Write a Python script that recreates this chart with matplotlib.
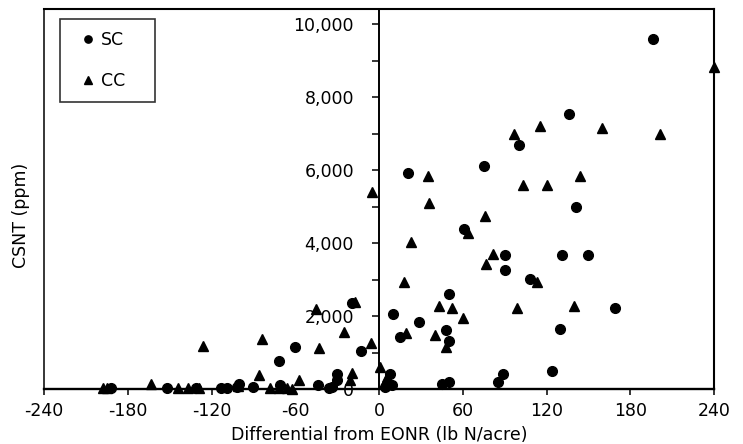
import matplotlib
matplotlib.use('Agg')
import matplotlib.pyplot as plt
from matplotlib.ticker import MultipleLocator, FuncFormatter
from matplotlib.lines import Line2D

plt.rcParams['font.family'] = ['DejaVu Sans']
plt.rcParams['axes.unicode_minus'] = False

# SC (soybean-corn) points: differential from EONR, CSNT ppm
sc_x = [196, 136, 100, 75, 21, 141, 61, 90, 131, 150, 90, 108, 50, 169, 10, 29,
        15, 48, 130, 50, 124, 89, 85, 50, 45, 8, 9, 4, 5,
        -19, -60, -72, -13, -30, -30, -34, -44, -90, -100, -102,
        -192, -152, -131, -113, -109, -71, -36]
sc_y = [9600, 7550, 6680, 6120, 5930, 4980, 4380, 3670, 3670, 3670, 3270, 3020, 2610, 2220, 2060, 1850,
        1420, 1620, 1650, 1320, 500, 410, 200, 200, 150, 400, 120, 50, 70,
        2370, 1160, 770, 1050, 400, 250, 60, 110, 60, 150, 60,
        40, 40, 40, 40, 40, 100, 40]

# CC (corn-corn) points
cc_x = [240, 201, 115, 97, 160, 35, 103, 120, 144, -5, 36, 76, 64, 23, 82, 77,
        113, 18, 43, 52, 99, 140, 60, 19, 40, 48, -6, 1, 6, 5,
        -126, -84, -43, -45, -25, -86, -57, -19, -21, -17,
        -198, -195, -163, -144, -137, -129, -101, -78, -72, -66, -62]
cc_y = [8830, 7000, 7200, 7000, 7150, 5840, 5590, 5590, 5840, 5390, 5090, 4750, 4270, 4040, 3690, 3440,
        2940, 2940, 2270, 2230, 2230, 2270, 1940, 1530, 1480, 1160, 1260, 610, 340, 246,
        1190, 1380, 1115, 2180, 1570, 380, 260, 430, 246, 2390,
        20, 20, 140, 20, 20, 40, 80, 40, 30, 30, 0]

fs = 12.5

fig = plt.figure(figsize=(7.43, 4.44), dpi=100)
ax = fig.add_axes([44 / 743, 1 - 389 / 444, 670 / 743, 380.5 / 444])

ax.plot(sc_x, sc_y, 'o', color='black', ms=7, label='SC', zorder=3, clip_on=False)
ax.plot(cc_x, cc_y, '^', color='black', ms=7.5, label='CC', zorder=3, clip_on=False)

ax.set_xlim(-240, 240)
ax.set_ylim(0, 10430)

# y axis drawn through x = 0, box line on the left edge
ax.spines['left'].set_position(('data', 0))
ax.spines['left'].set_linewidth(1.4)
ax.spines['bottom'].set_linewidth(1.7)
ax.spines['top'].set_linewidth(1.5)
ax.spines['right'].set_linewidth(1.5)
ax.add_line(Line2D([0, 0], [0, 1], transform=ax.transAxes, color='black', lw=1.1, clip_on=False))

ax.xaxis.set_major_locator(MultipleLocator(60))
ax.yaxis.set_major_locator(MultipleLocator(2000))
ax.yaxis.set_minor_locator(MultipleLocator(1000))
ax.yaxis.set_major_formatter(FuncFormatter(lambda v, p: f'{int(v):,}'))
ax.tick_params(axis='x', direction='out', length=4.5, width=1.1, pad=5, labelsize=fs)
ax.tick_params(axis='y', which='both', direction='out', length=5, width=1.1, pad=13, labelsize=fs)
ax.tick_params(top=False, right=False)

ax.set_xlabel('Differential from EONR (lb N/acre)', fontsize=fs, labelpad=4)
ax.set_ylabel('CSNT (ppm)', fontsize=fs)
ax.yaxis.set_label_coords(-0.021, 0.455)

leg = ax.legend(loc='upper left', bbox_to_anchor=(0.024, 0.6, 95 / 670, 0.372), mode='expand',
                frameon=True, fancybox=False, edgecolor='black', fontsize=fs, markerscale=0.75,
                handlelength=1.84, handletextpad=-0.19, labelspacing=1.3, borderpad=0.69,
                borderaxespad=0)
leg.get_frame().set_linewidth(1.2)

fig.savefig('out.png', dpi=100)
